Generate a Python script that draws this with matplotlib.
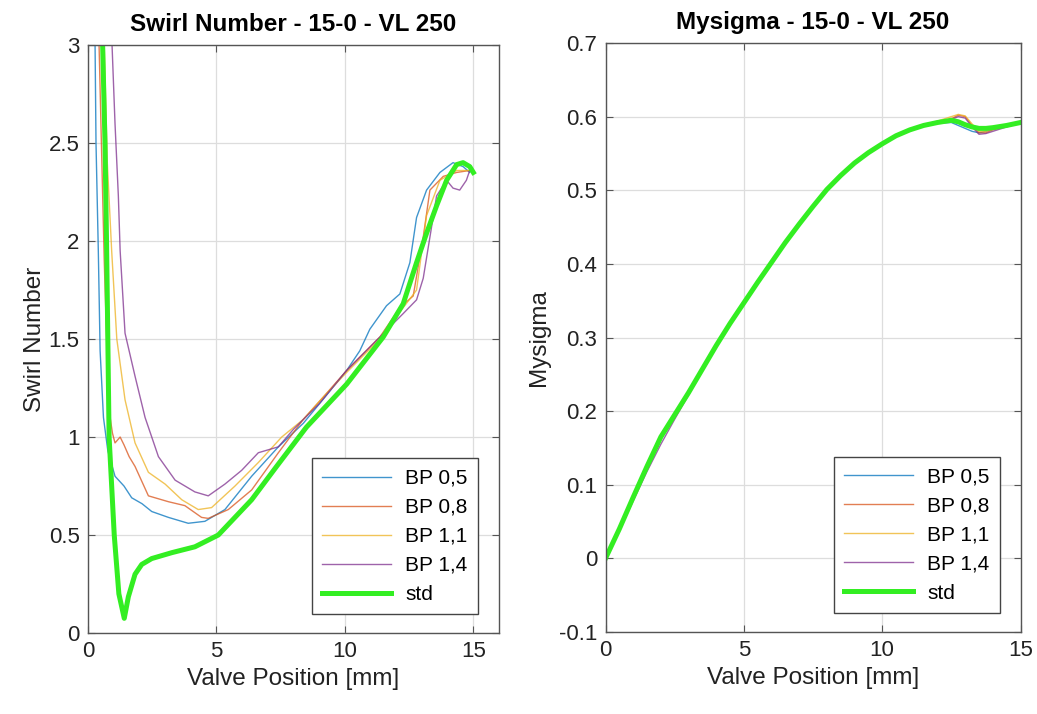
import numpy as np
import matplotlib.pyplot as plt

plt.rcParams['font.family'] = ['Liberation Sans', 'DejaVu Sans']

# ---- Swirl number data ----
sw_x_bp05 = [0.27, 0.31, 0.40, 0.47, 0.60, 0.77, 1.05, 1.40, 1.70, 2.10, 2.48, 3.13, 3.90, 4.55, 5.33, 6.37, 7.41,
             8.38, 9.20, 10.07, 10.58, 10.97, 11.62, 12.14, 12.53, 12.79, 13.18, 13.70, 14.21, 14.60, 14.86]
sw_bp05 = [3.05, 2.50, 1.95, 1.44, 1.10, 0.93, 0.80, 0.75, 0.69, 0.66, 0.62, 0.59, 0.56, 0.57, 0.63, 0.80, 0.95,
           1.07, 1.20, 1.34, 1.44, 1.55, 1.67, 1.73, 1.89, 2.12, 2.26, 2.35, 2.40, 2.38, 2.35]

sw_x_bp08 = [0.42, 0.52, 0.63, 0.76, 0.86, 0.95, 1.05, 1.25, 1.40, 1.60, 1.83, 2.35, 3.13, 3.77, 4.42, 4.68, 5.46,
             6.37, 7.41, 8.38, 9.20, 10.07, 11.36, 12.14, 12.66, 13.05, 13.31, 13.83, 14.35, 14.86]
sw_bp08 = [3.05, 2.50, 1.90, 1.35, 1.10, 1.02, 0.97, 1.00, 0.96, 0.90, 0.85, 0.70, 0.67, 0.65, 0.59, 0.585, 0.63,
           0.73, 0.92, 1.09, 1.21, 1.34, 1.51, 1.66, 1.72, 2.02, 2.26, 2.33, 2.35, 2.36]

sw_x_bp11 = [0.62, 0.75, 0.92, 1.12, 1.44, 1.83, 2.35, 3.00, 3.65, 4.29, 4.81, 5.72, 6.63, 7.54,
             8.38, 9.20, 10.07, 11.36, 12.27, 12.79, 13.18, 13.70, 14.35, 14.86]
sw_bp11 = [3.05, 2.40, 1.95, 1.50, 1.19, 0.97, 0.82, 0.76, 0.68, 0.63, 0.64, 0.75, 0.87, 1.00,
           1.09, 1.21, 1.33, 1.50, 1.66, 1.75, 2.13, 2.31, 2.36, 2.36]

sw_x_bp14 = [0.92, 1.05, 1.18, 1.25, 1.44, 1.83, 2.22, 2.74, 3.39, 4.16, 4.68, 5.33, 5.98, 6.63, 7.41,
             8.00, 9.00, 10.07, 11.36, 12.27, 12.79, 13.05, 13.31, 13.57, 13.96, 14.21, 14.47, 14.73, 14.86]
sw_bp14 = [3.05, 2.60, 2.23, 1.95, 1.53, 1.31, 1.10, 0.90, 0.78, 0.72, 0.70, 0.76, 0.83, 0.92, 0.95,
           1.04, 1.17, 1.34, 1.51, 1.63, 1.70, 1.81, 2.02, 2.23, 2.31, 2.27, 2.26, 2.31, 2.36]

sw_x_std = [0.55, 0.66, 0.72, 0.82, 1.02, 1.20, 1.41, 1.57, 1.83, 2.09, 2.48, 3.26, 4.16, 5.07, 6.37, 7.34,
            8.50, 10.07, 11.49, 12.27, 12.79, 13.18, 13.57, 13.96, 14.35, 14.60, 14.86, 15.00]
sw_std = [3.10, 2.50, 2.00, 1.00, 0.50, 0.20, 0.075, 0.185, 0.30, 0.35, 0.38, 0.41, 0.44, 0.50, 0.68, 0.85,
          1.05, 1.27, 1.51, 1.68, 1.89, 2.04, 2.18, 2.31, 2.39, 2.40, 2.38, 2.35]

# ---- Mysigma data ----
ms_x = [0, 0.5, 1, 1.5, 2, 2.5, 3, 3.5, 4, 4.5, 5, 5.5, 6, 6.5, 7, 7.5, 8, 8.5, 9, 9.5, 10,
        10.5, 11, 11.5, 12, 12.5, 12.75, 13, 13.25, 13.5, 13.75, 14, 14.5, 15]
ms_std = [0.0, 0.04, 0.083, 0.125, 0.165, 0.195, 0.225, 0.257, 0.289, 0.319, 0.347, 0.375, 0.402, 0.429,
          0.454, 0.478, 0.501, 0.520, 0.537, 0.551, 0.563, 0.574, 0.582, 0.588, 0.592, 0.595, 0.593,
          0.589, 0.586, 0.584, 0.584, 0.585, 0.588, 0.592]
ms_bp05 = [0.0, 0.04, 0.082, 0.123, 0.163, 0.194, 0.225, 0.257, 0.289, 0.319, 0.347, 0.375, 0.402, 0.429,
           0.454, 0.478, 0.500, 0.519, 0.536, 0.550, 0.562, 0.573, 0.581, 0.587, 0.591, 0.592, 0.588,
           0.584, 0.580, 0.578, 0.580, 0.583, 0.587, 0.592]
ms_bp08 = [0.0, 0.04, 0.082, 0.124, 0.163, 0.194, 0.225, 0.257, 0.289, 0.319, 0.347, 0.375, 0.402, 0.429,
           0.454, 0.478, 0.500, 0.519, 0.537, 0.551, 0.563, 0.574, 0.582, 0.588, 0.593, 0.597, 0.602,
           0.600, 0.588, 0.578, 0.578, 0.582, 0.587, 0.592]
ms_bp11 = [0.0, 0.04, 0.082, 0.124, 0.163, 0.194, 0.225, 0.257, 0.289, 0.319, 0.347, 0.375, 0.402, 0.429,
           0.454, 0.478, 0.500, 0.519, 0.537, 0.551, 0.563, 0.574, 0.582, 0.588, 0.594, 0.600, 0.603,
           0.601, 0.590, 0.580, 0.580, 0.584, 0.588, 0.592]
ms_bp14 = [0.0, 0.038, 0.078, 0.118, 0.155, 0.189, 0.222, 0.255, 0.288, 0.318, 0.346, 0.374, 0.401, 0.428,
           0.453, 0.477, 0.499, 0.518, 0.536, 0.550, 0.562, 0.573, 0.581, 0.587, 0.592, 0.596, 0.600,
           0.598, 0.586, 0.576, 0.577, 0.580, 0.586, 0.592]

labels = ['BP 0,5', 'BP 0,8', 'BP 1,1', 'BP 1,4', 'std']
colors = ['#0072BD', '#D95319', '#EDB120', '#7E2F8E', '#33EE22']


def style_axes(ax):
    ax.grid(True, color='#dddddd', linewidth=0.9)
    ax.set_axisbelow(True)
    ax.tick_params(direction='in', top=True, right=True, labelsize=16,
                   color='#555555', labelcolor='#222222', length=5, pad=6)
    for s in ax.spines.values():
        s.set_color('#555555')
        s.set_linewidth(1.0)


def add_legend(ax, right):
    ax.legend(loc='lower right', bbox_to_anchor=(right, 0.032), fontsize=15, handlelength=3.3,
              handletextpad=0.7, fancybox=False, edgecolor='#444444', framealpha=1,
              borderpad=0.5, labelspacing=0.48, borderaxespad=0)


fig = plt.figure(figsize=(10.37, 7.14), dpi=100)

# left panel
ax1 = fig.add_axes([0.0849, 0.1134, 0.3963, 0.8235])
sw_series = [(sw_x_bp05, sw_bp05), (sw_x_bp08, sw_bp08), (sw_x_bp11, sw_bp11), (sw_x_bp14, sw_bp14)]
for (xs, ys), lab, c in zip(sw_series, labels[:4], colors[:4]):
    ax1.plot(xs, ys, color=c, lw=1.0, alpha=0.75, label=lab)
ax1.plot(sw_x_std, sw_std, color=colors[4], lw=3.6, label=labels[4])
ax1.set_xlim(0, 16)
ax1.set_ylim(0, 3)
ax1.set_xticks([0, 5, 10, 15])
ax1.set_yticks([0, 0.5, 1, 1.5, 2, 2.5, 3])
ax1.set_yticklabels(['0', '0.5', '1', '1.5', '2', '2.5', '3'])
ax1.set_xlabel('Valve Position [mm]', fontsize=17.5, color='#222222', labelpad=4)
ax1.set_ylabel('Swirl Number', fontsize=17.5, color='#222222', labelpad=2)
ax1.set_title('Swirl Number - 15-0 - VL 250', fontsize=17.5, fontweight='bold', pad=10)
style_axes(ax1)
add_legend(ax1, 0.949)

# right panel
ax2 = fig.add_axes([0.5839, 0.1148, 0.4002, 0.8250])
for ys, lab, c in zip([ms_bp05, ms_bp08, ms_bp11, ms_bp14], labels[:4], colors[:4]):
    ax2.plot(ms_x, ys, color=c, lw=1.0, alpha=0.75, label=lab)
ax2.plot(ms_x, ms_std, color=colors[4], lw=3.6, label=labels[4])
ax2.set_xlim(0, 15)
ax2.set_ylim(-0.1, 0.7)
ax2.set_xticks([0, 5, 10, 15])
ax2.set_yticks([-0.1, 0, 0.1, 0.2, 0.3, 0.4, 0.5, 0.6, 0.7])
ax2.set_yticklabels(['-0.1', '0', '0.1', '0.2', '0.3', '0.4', '0.5', '0.6', '0.7'])
ax2.set_xlabel('Valve Position [mm]', fontsize=17.5, color='#222222', labelpad=4)
ax2.set_ylabel('Mysigma', fontsize=17.5, color='#222222', labelpad=6)
ax2.set_title('Mysigma - 15-0 - VL 250', fontsize=17.5, fontweight='bold', pad=10)
style_axes(ax2)
add_legend(ax2, 0.951)

fig.savefig('out.png', dpi=100)
